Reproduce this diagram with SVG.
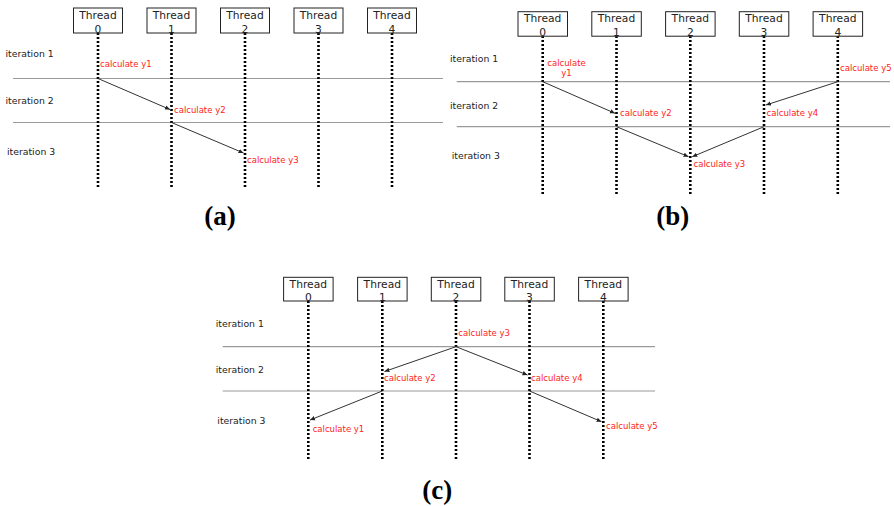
<svg xmlns="http://www.w3.org/2000/svg" width="894" height="506" viewBox="0 0 894 506">
<style>
.box{fill:#fff;stroke:#222;stroke-width:1}
.th{font-family:"DejaVu Sans",sans-serif;font-size:10.7px;fill:#222;text-anchor:middle}
.it{font-family:"DejaVu Sans",sans-serif;font-size:9.3px;fill:#222}
.lb{font-family:"DejaVu Sans",sans-serif;font-size:8.5px;fill:#f22}
.dot{stroke:#000;stroke-width:2.6;stroke-dasharray:2 2;fill:none}
.hl{stroke:#9a9a9a;stroke-width:1.2;fill:none}
.ar{stroke:#333;stroke-width:1;fill:none;marker-end:url(#ah)}
.cap{font-family:"Liberation Serif",serif;font-weight:bold;font-size:27px;fill:#000;text-anchor:middle}
</style>
<defs>
<marker id="ah" markerUnits="userSpaceOnUse" markerWidth="6" markerHeight="6" refX="5" refY="3" orient="auto">
<path d="M0,0.8 L5,3 L0,5.2 z" fill="#222"/>
</marker>
</defs>

<!-- Panel (a) -->
<g id="panel-a">
<g id="a-hlines">
<line class="hl" x1="13" y1="78.5" x2="443" y2="78.5"/>
<line class="hl" x1="13" y1="122.5" x2="443" y2="122.5"/>
</g>
<g id="a-thread0"><line class="dot" x1="98" y1="33" x2="98" y2="189"/><rect class="box" x="73.5" y="8" width="49" height="25"/><text class="th" x="98" y="18.5">Thread</text><text class="th" x="98" y="32.5">0</text></g>
<g id="a-thread1"><line class="dot" x1="171.5" y1="33" x2="171.5" y2="189"/><rect class="box" x="147" y="8" width="49" height="25"/><text class="th" x="171.5" y="18.5">Thread</text><text class="th" x="171.5" y="32.5">1</text></g>
<g id="a-thread2"><line class="dot" x1="245" y1="33" x2="245" y2="189"/><rect class="box" x="220.5" y="8" width="49" height="25"/><text class="th" x="245" y="18.5">Thread</text><text class="th" x="245" y="32.5">2</text></g>
<g id="a-thread3"><line class="dot" x1="318.5" y1="33" x2="318.5" y2="189"/><rect class="box" x="294" y="8" width="49" height="25"/><text class="th" x="318.5" y="18.5">Thread</text><text class="th" x="318.5" y="32.5">3</text></g>
<g id="a-thread4"><line class="dot" x1="392" y1="33" x2="392" y2="189"/><rect class="box" x="367.5" y="8" width="49" height="25"/><text class="th" x="392" y="18.5">Thread</text><text class="th" x="392" y="32.5">4</text></g>
<g id="a-iterations">
<text class="it" x="5.5" y="57">iteration 1</text>
<text class="it" x="5.5" y="103.5">iteration 2</text>
<text class="it" x="7" y="154.5">iteration 3</text>
</g>
<g id="a-connectors">
<line class="ar" x1="98" y1="78.5" x2="170" y2="109.5"/>
<line class="ar" x1="171.5" y1="122.5" x2="243.5" y2="153"/>
</g>
<g id="a-labels">
<text class="lb" x="100" y="67">calculate y1</text>
<text class="lb" x="174" y="112.5">calculate y2</text>
<text class="lb" x="247" y="163">calculate y3</text>
</g>
<text class="cap" x="220" y="225">(a)</text>
</g>

<!-- Panel (b) -->
<g id="panel-b">
<g id="b-hlines">
<line class="hl" x1="456.7" y1="81.7" x2="890" y2="81.7"/>
<line class="hl" x1="456.7" y1="126.7" x2="890" y2="126.7"/>
</g>
<g id="b-thread0"><line class="dot" x1="542.7" y1="36" x2="542.7" y2="194"/><rect class="box" x="518" y="11.7" width="49.5" height="24.5"/><text class="th" x="542.7" y="22.3">Thread</text><text class="th" x="542.7" y="36">0</text></g>
<g id="b-thread1"><line class="dot" x1="616.5" y1="36" x2="616.5" y2="194"/><rect class="box" x="591.8" y="11.7" width="49.5" height="24.5"/><text class="th" x="616.5" y="22.3">Thread</text><text class="th" x="616.5" y="36">1</text></g>
<g id="b-thread2"><line class="dot" x1="690.3" y1="36" x2="690.3" y2="194"/><rect class="box" x="665.6" y="11.7" width="49.5" height="24.5"/><text class="th" x="690.3" y="22.3">Thread</text><text class="th" x="690.3" y="36">2</text></g>
<g id="b-thread3"><line class="dot" x1="764" y1="36" x2="764" y2="194"/><rect class="box" x="739.3" y="11.7" width="49.5" height="24.5"/><text class="th" x="764" y="22.3">Thread</text><text class="th" x="764" y="36">3</text></g>
<g id="b-thread4"><line class="dot" x1="837.8" y1="36" x2="837.8" y2="194"/><rect class="box" x="813.1" y="11.7" width="49.5" height="24.5"/><text class="th" x="837.8" y="22.3">Thread</text><text class="th" x="837.8" y="36">4</text></g>
<g id="b-iterations">
<text class="it" x="450" y="62.3">iteration 1</text>
<text class="it" x="450" y="109">iteration 2</text>
<text class="it" x="451.7" y="159.3">iteration 3</text>
</g>
<g id="b-connectors">
<line class="ar" x1="542.7" y1="81.7" x2="615" y2="113.3"/>
<line class="ar" x1="837.8" y1="81.7" x2="766" y2="105"/>
<line class="ar" x1="616.5" y1="126.7" x2="688.5" y2="156.7"/>
<line class="ar" x1="764" y1="126.7" x2="692.3" y2="156.7"/>
</g>
<g id="b-labels">
<text class="lb" x="566.5" y="65.7" text-anchor="middle">calculate</text>
<text class="lb" x="566.5" y="75.5" text-anchor="middle">y1</text>
<text class="lb" x="840" y="70.7">calculate y5</text>
<text class="lb" x="620" y="116">calculate y2</text>
<text class="lb" x="766.5" y="116">calculate y4</text>
<text class="lb" x="693.5" y="166.7">calculate y3</text>
</g>
<text class="cap" x="672.7" y="225">(b)</text>
</g>

<!-- Panel (c) -->
<g id="panel-c">
<g id="c-hlines">
<line class="hl" x1="222.7" y1="346.7" x2="655" y2="346.7"/>
<line class="hl" x1="222.7" y1="391" x2="655" y2="391"/>
</g>
<g id="c-thread0"><line class="dot" x1="308.3" y1="301" x2="308.3" y2="459"/><rect class="box" x="283.6" y="277.3" width="49.5" height="23.7"/><text class="th" x="308.3" y="287.6">Thread</text><text class="th" x="308.3" y="301">0</text></g>
<g id="c-thread1"><line class="dot" x1="382.3" y1="301" x2="382.3" y2="459"/><rect class="box" x="357.6" y="277.3" width="49.5" height="23.7"/><text class="th" x="382.3" y="287.6">Thread</text><text class="th" x="382.3" y="301">1</text></g>
<g id="c-thread2"><line class="dot" x1="456" y1="301" x2="456" y2="459"/><rect class="box" x="431.3" y="277.3" width="49.5" height="23.7"/><text class="th" x="456" y="287.6">Thread</text><text class="th" x="456" y="301">2</text></g>
<g id="c-thread3"><line class="dot" x1="529.5" y1="301" x2="529.5" y2="459"/><rect class="box" x="504.8" y="277.3" width="49.5" height="23.7"/><text class="th" x="529.5" y="287.6">Thread</text><text class="th" x="529.5" y="301">3</text></g>
<g id="c-thread4"><line class="dot" x1="603.3" y1="301" x2="603.3" y2="459"/><rect class="box" x="578.6" y="277.3" width="49.5" height="23.7"/><text class="th" x="603.3" y="287.6">Thread</text><text class="th" x="603.3" y="301">4</text></g>
<g id="c-iterations">
<text class="it" x="215.7" y="327.3">iteration 1</text>
<text class="it" x="215.7" y="373.3">iteration 2</text>
<text class="it" x="217.3" y="424">iteration 3</text>
</g>
<g id="c-connectors">
<line class="ar" x1="456" y1="346.7" x2="384.5" y2="371.5"/>
<line class="ar" x1="456" y1="346.7" x2="527.5" y2="375"/>
<line class="ar" x1="382.3" y1="391" x2="310" y2="420"/>
<line class="ar" x1="529.5" y1="391" x2="601.5" y2="421.7"/>
</g>
<g id="c-labels">
<text class="lb" x="458.3" y="336">calculate y3</text>
<text class="lb" x="384" y="380.7">calculate y2</text>
<text class="lb" x="531" y="380.7">calculate y4</text>
<text class="lb" x="312.7" y="431.7">calculate y1</text>
<text class="lb" x="606" y="429">calculate y5</text>
</g>
<text class="cap" x="437.3" y="499">(c)</text>
</g>
</svg>
